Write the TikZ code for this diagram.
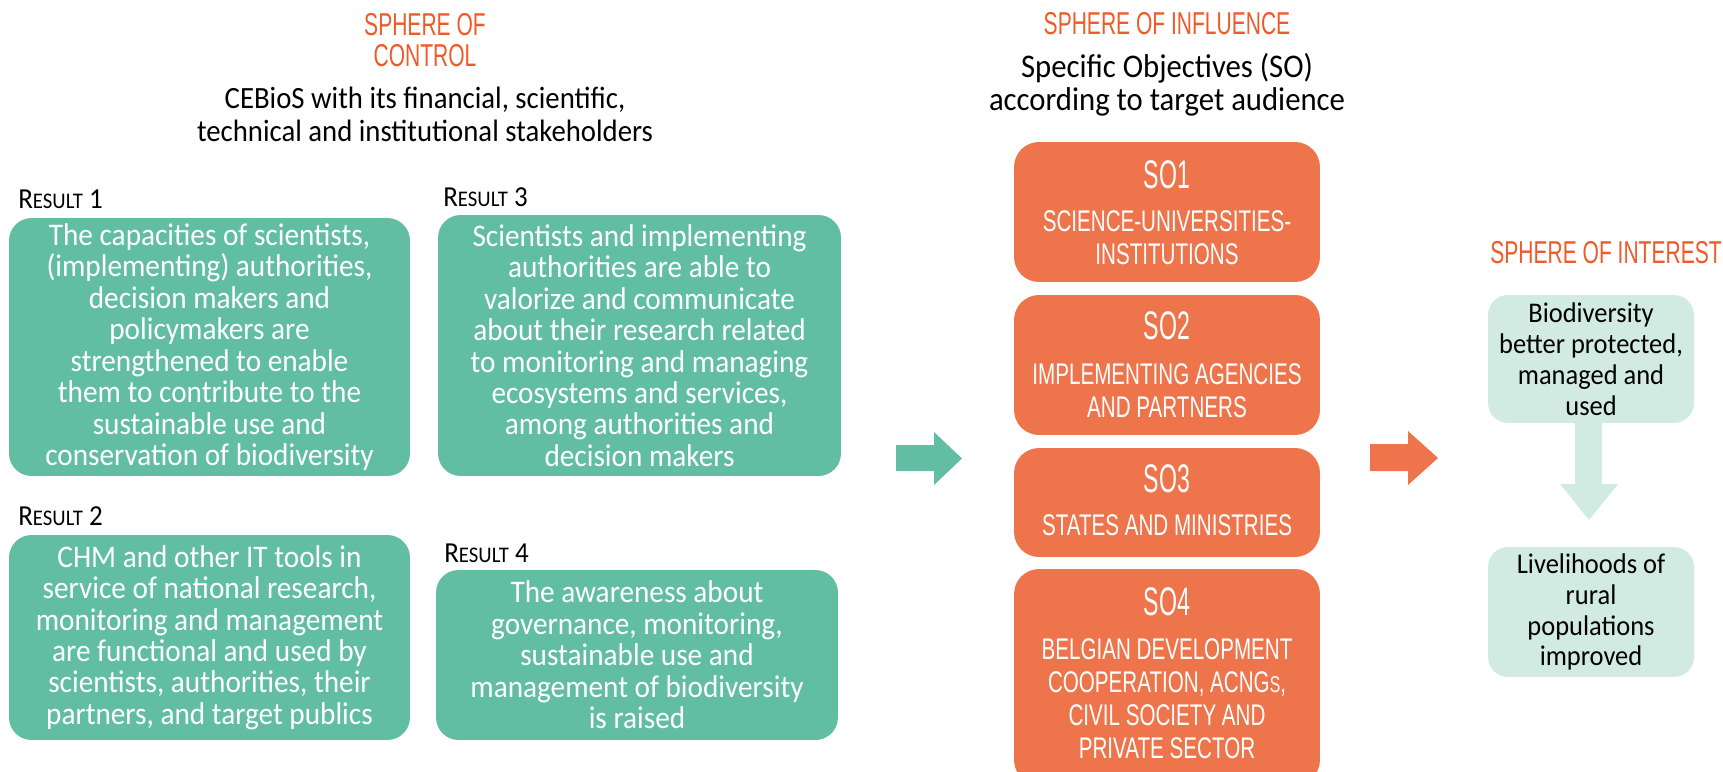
\documentclass[tikz,border=0pt]{standalone}
\usepackage{fontspec}
\setmainfont{Carlito}[FakeStretch=0.93]
\newfontfamily\titlefont[FakeStretch=0.665]{Liberation Sans}
\newfontfamily\sofont[FakeStretch=0.69]{Liberation Sans}
\newfontfamily\sonumfont[FakeStretch=0.58]{Liberation Sans}
\usepackage{xcolor}
\usetikzlibrary{positioning}
\definecolor{resgreen}{HTML}{62BEA3}
\definecolor{soorange}{HTML}{EE744C}
\definecolor{titleorange}{HTML}{EF5A29}
\definecolor{palegreen}{HTML}{D1EBE3}
\newcommand\reslab[1]{R{\fontsize{12.7}{14}\selectfont ESULT} #1}

\begin{document}
\begin{tikzpicture}[
  x=0.02cm, y=-0.02cm,
  sphere/.style={text=titleorange, font=\titlefont\fontsize{18}{18}\selectfont, align=center, inner sep=0pt},
  subhead/.style={align=center, inner sep=0pt},
  reslabel/.style={anchor=west, inner sep=0pt, font=\fontsize{16.5}{18}\selectfont},
  resbox/.style={fill=resgreen, rounded corners=0.45cm, text=white, align=center, inner sep=0pt, font=\fontsize{17.9}{17.9}\selectfont},
  ]
  \tikzset{%
    sobox/.style={
      fill=soorange,
      rounded corners=0.5cm,
      minimum width=6.12cm,
    },
    sonum/.style={text=white, inner sep=0pt, font=\sonumfont\fontsize{22.7}{24}\selectfont},
    sotext/.style={text=white, inner sep=0pt, align=center, font=\sofont\fontsize{17}{18.7}\selectfont},
    goalbox/.style={fill=palegreen, rounded corners=0.4cm, minimum width=4.12cm, align=center, inner sep=0pt, font=\fontsize{16.2}{17.6}\selectfont},
  }
  \useasboundingbox (0,0) rectangle (1723,771);
  \clip (0,0) rectangle (1723,771);
  %Sphere of control
  \node[sphere](control) at (425,40) {SPHERE OF\\CONTROL};
  \node[subhead, font=\fontsize{17.6}{18.7}\selectfont](cebios) at (425,114) {CEBioS with its financial, scientific,\\technical and institutional stakeholders};
  \node[reslabel](l1) at (18,199) {\reslab{1}};
  \node[reslabel](l3) at (443,197) {\reslab{3}};
  \node[reslabel](l2) at (18,516) {\reslab{2}};
  \node[reslabel](l4) at (444,553) {\reslab{4}};
  \node[resbox, minimum width=8.02cm, minimum height=5.16cm](r1) at (209.5,347)
    {The capacities of scientists,\\(implementing) authorities,\\decision makers and\\policymakers are\\strengthened to enable\\them to contribute to the\\sustainable use and\\conservation of biodiversity};
  \node[resbox, minimum width=8.06cm, minimum height=5.22cm](r3) at (639.5,345.5)
    {Scientists and implementing\\authorities are able to\\valorize and communicate\\about their research related\\to monitoring and managing\\ecosystems and services,\\among authorities and\\decision makers};
  \node[resbox, minimum width=8.02cm, minimum height=4.1cm](r2) at (209.5,637.5)
    {CHM and other IT tools in\\service of national research,\\monitoring and management\\are functional and used by\\scientists, authorities, their\\partners, and target publics};
  \node[resbox, minimum width=8.04cm, minimum height=3.4cm](r4) at (637,655)
    {The awareness about\\governance, monitoring,\\sustainable use and\\management of biodiversity\\is raised};
  %Sphere of influence
  \node[sphere](influence) at (1167,24) {SPHERE OF INFLUENCE};
  \node[subhead, font=\fontsize{18.8}{18.8}\selectfont](objectives) at (1167,85) {Specific Objectives (SO)\\according to target audience};
  \node[sobox, minimum height=2.8cm](so1) at (1167,212) {};
  \node[sobox, minimum height=2.8cm](so2) at (1167,365) {};
  \node[sobox, minimum height=2.18cm](so3) at (1167,502.5) {};
  \node[sobox, minimum height=4.32cm](so4) at (1167,677) {};
  \node[sonum] at (1167,175) {SO1};
  \node[sotext] at (1167,237.5) {SCIENCE-UNIVERSITIES-\\INSTITUTIONS};
  \node[sonum] at (1167,326) {SO2};
  \node[sotext] at (1167,390.5) {IMPLEMENTING AGENCIES\\AND PARTNERS};
  \node[sonum] at (1167,479) {SO3};
  \node[sotext] at (1167,525.5) {STATES AND MINISTRIES};
  \node[sonum] at (1167,602) {SO4};
  \node[sotext] at (1167,698.5) {BELGIAN DEVELOPMENT\\COOPERATION, ACNG{\fontsize{13}{13}\selectfont S},\\CIVIL SOCIETY AND\\PRIVATE SECTOR};
  %Sphere of interest
  \node[sphere](interest) at (1606,253) {SPHERE OF INTEREST};
  \node[goalbox, minimum height=2.56cm](g1) at (1591,359) {Biodiversity\\better protected,\\managed and\\used};
  \node[goalbox, minimum height=2.6cm](g2) at (1591,612) {Livelihoods of\\rural\\populations\\improved};
  %Arrows
  \fill[resgreen] (896,445) -- (934,445) -- (934,432) -- (962,458.5) -- (934,485) -- (934,471) -- (896,471) -- cycle;
  \fill[soorange] (1370,444) -- (1408,444) -- (1408,431) -- (1438,458) -- (1408,485) -- (1408,471) -- (1370,471) -- cycle;
  \fill[palegreen] (1575,423) -- (1602,423) -- (1602,484) -- (1618,484) -- (1589,520) -- (1560,484) -- (1575,484) -- cycle;
\end{tikzpicture}
\end{document}
